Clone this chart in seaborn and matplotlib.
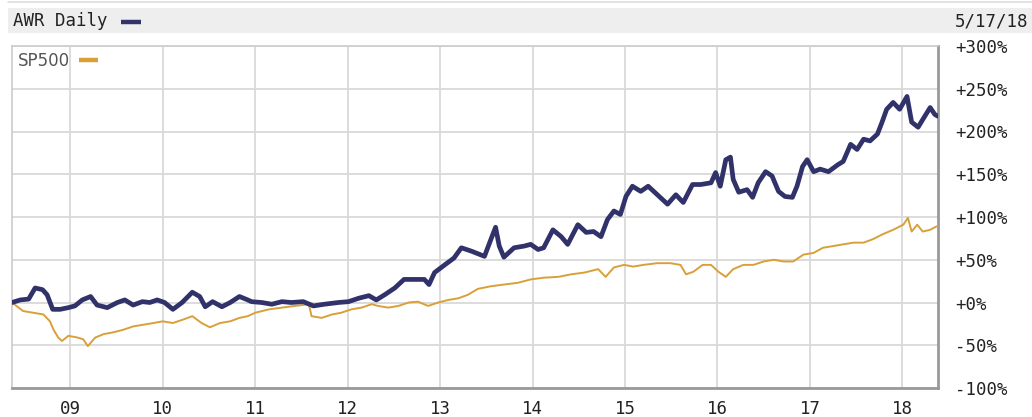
import matplotlib
matplotlib.use("Agg")
import matplotlib.pyplot as plt
from matplotlib.lines import Line2D
import pandas as pd
import seaborn as sns

# ---------------- data ----------------
awr_t = [2008.37, 2008.46, 2008.55, 2008.62, 2008.70, 2008.75, 2008.81, 2008.89, 2008.98, 2009.05,
         2009.13, 2009.22, 2009.29, 2009.40, 2009.51, 2009.59, 2009.68, 2009.78, 2009.86, 2009.94,
         2010.02, 2010.11, 2010.21, 2010.32, 2010.40, 2010.46, 2010.54, 2010.64, 2010.73, 2010.83,
         2010.92, 2010.96, 2011.07, 2011.18, 2011.29, 2011.39, 2011.52, 2011.63, 2011.75, 2011.90,
         2012.01, 2012.12, 2012.23, 2012.31, 2012.40, 2012.51, 2012.61, 2012.72, 2012.83, 2012.88,
         2012.94, 2013.05, 2013.15, 2013.23, 2013.34, 2013.48, 2013.55, 2013.60, 2013.64, 2013.69,
         2013.80, 2013.91, 2013.98, 2014.06, 2014.12, 2014.22, 2014.31, 2014.38, 2014.49, 2014.58,
         2014.66, 2014.74, 2014.81, 2014.88, 2014.95, 2015.01, 2015.08, 2015.17, 2015.25, 2015.35,
         2015.46, 2015.55, 2015.63, 2015.73, 2015.82, 2015.93, 2015.98, 2016.03, 2016.09, 2016.14,
         2016.17, 2016.23, 2016.32, 2016.38, 2016.44, 2016.52, 2016.59, 2016.66, 2016.73, 2016.81,
         2016.86, 2016.92, 2016.97, 2017.04, 2017.11, 2017.20, 2017.30, 2017.36, 2017.44, 2017.51,
         2017.58, 2017.65, 2017.73, 2017.78, 2017.83, 2017.90, 2017.97, 2018.05, 2018.10, 2018.17,
         2018.22, 2018.30, 2018.35, 2018.38]
awr_v = [0, 3, 4, 17, 15, 9, -8, -8, -6, -4,
         3, 7, -3, -6, 0, 3, -3, 1, 0, 3,
         0, -8, 0, 12, 7, -5, 1, -5, 0, 7,
         3, 1, 0, -2, 1, 0, 1, -4, -2, 0,
         1, 5, 8, 3, 9, 17, 27, 27, 27, 21,
         35, 44, 52, 64, 60, 54, 74, 88, 66, 53,
         64, 66, 68, 62, 64, 85, 77, 68, 91, 82,
         83, 77, 97, 107, 103, 124, 136, 130, 136, 126,
         115, 126, 117, 138, 138, 140, 152, 136, 167, 170,
         144, 129, 132, 123, 140, 153, 148, 130, 124, 123,
         136, 159, 167, 153, 156, 153, 161, 165, 185, 179,
         191, 189, 197, 211, 226, 234, 226, 241, 211, 205,
         214, 228, 220, 218]

sp_t = [2008.37, 2008.49, 2008.60, 2008.71, 2008.78, 2008.82, 2008.87, 2008.91, 2008.98, 2009.08,
        2009.14, 2009.19, 2009.27, 2009.36, 2009.46, 2009.57, 2009.68, 2009.79, 2009.90, 2010.00,
        2010.11, 2010.22, 2010.32, 2010.42, 2010.51, 2010.62, 2010.73, 2010.83, 2010.92, 2011.00,
        2011.15, 2011.29, 2011.43, 2011.58, 2011.61, 2011.72, 2011.83, 2011.93, 2012.04, 2012.15,
        2012.26, 2012.33, 2012.44, 2012.55, 2012.66, 2012.76, 2012.87, 2012.98, 2013.09, 2013.20,
        2013.30, 2013.41, 2013.55, 2013.69, 2013.84, 2013.98, 2014.12, 2014.28, 2014.42, 2014.56,
        2014.71, 2014.79, 2014.88, 2014.99, 2015.09, 2015.20, 2015.35, 2015.49, 2015.60, 2015.66,
        2015.74, 2015.84, 2015.93, 2016.01, 2016.09, 2016.17, 2016.28, 2016.39, 2016.50, 2016.61,
        2016.71, 2016.82, 2016.93, 2017.04, 2017.14, 2017.25, 2017.36, 2017.47, 2017.58, 2017.68,
        2017.79, 2017.90, 2018.01, 2018.06, 2018.10, 2018.16, 2018.22, 2018.30, 2018.37]
sp_v = [0, -10, -12, -14, -22, -32, -41, -45, -39, -41,
        -43, -51, -41, -37, -35, -32, -28, -26, -24, -22,
        -24, -20, -16, -24, -29, -24, -22, -18, -16, -12,
        -8, -6, -4, -2, -16, -18, -14, -12, -8, -6,
        -2, -4, -6, -4, 0, 1, -4, 0, 3, 5,
        9, 16, 19, 21, 23, 27, 29, 30, 33, 35,
        39, 30, 41, 44, 42, 44, 46, 46, 44, 33,
        36, 44, 44, 36, 30, 39, 44, 44, 48, 50,
        48, 48, 56, 58, 64, 66, 68, 70, 70, 74,
        80, 85, 91, 99, 83, 91, 83, 85, 89]

year_ticks = list(range(2009, 2019))
year_labels = ["09", "10", "11", "12", "13", "14", "15", "16", "17", "18"]
pct_ticks = [-100, -50, 0, 50, 100, 150, 200, 250, 300]
pct_labels = ["-100%", "-50%", "+0%", "+50%", "+100%", "+150%", "+200%", "+250%", "+300%"]
title_text = "AWR Daily"
date_text = "5/17/18"
awr_name = "AWR"
sp_name = "SP500"

# ---------------- styling ----------------
NAVY = "#31326a"
GOLD = "#d9a03a"
GRID = "#d9d9d9"
MONO = ["DejaVu Sans Mono"]

sns.set_style("white")
plt.rcParams["font.family"] = ["DejaVu Sans"]

W, H = 1032, 417
fig = plt.figure(figsize=(W / 100, H / 100), dpi=100)
fig.patch.set_facecolor("white")

# header band
hdr = fig.add_axes([8 / W, (H - 33) / H, (W - 8) / W, 25 / H])
hdr.set_facecolor("#eeeeee")
for s in hdr.spines.values():
    s.set_visible(False)
hdr.set_xticks([]); hdr.set_yticks([])
fig.add_artist(Line2D([8 / W, 1.0], [(H - 2) / H] * 2, color="#dddddd", lw=1.2))

fig.text(13 / W, (H - 21) / H, title_text, family=MONO, fontsize=12.5,
         color="#222222", va="center", ha="left")
fig.add_artist(Line2D([121 / W, 141 / W], [(H - 22) / H] * 2, color=NAVY, lw=3.2,
                      solid_capstyle="butt"))
fig.text(955 / W, (H - 21) / H, date_text, family=MONO, fontsize=12.5,
         color="#222222", va="center", ha="left")

# main axes
ax = fig.add_axes([12 / W, (H - 388) / H, 926 / W, 342 / H])
df_sp = pd.DataFrame({"t": sp_t, "v": sp_v})
df_awr = pd.DataFrame({"t": awr_t, "v": awr_v})
sns.lineplot(data=df_sp, x="t", y="v", ax=ax, color=GOLD, lw=1.4,
             estimator=None, sort=False, label=sp_name, zorder=3)
sns.lineplot(data=df_awr, x="t", y="v", ax=ax, color=NAVY, lw=3.4,
             estimator=None, sort=False, label=awr_name, zorder=4)

ax.set_xlim(2008.37, 2018.385)
ax.set_ylim(-100, 300)
ax.set_xticks(year_ticks)
ax.set_xticklabels(year_labels)
ax.set_yticks(pct_ticks)
ax.set_yticklabels(pct_labels)
ax.yaxis.tick_right()
ax.tick_params(axis="y", length=0, pad=12.5, labelsize=12.5, labelcolor="#222222")
ax.tick_params(axis="x", length=0, pad=9, labelsize=12.5, labelcolor="#222222")
for lab in ax.get_xticklabels() + ax.get_yticklabels():
    lab.set_family(MONO)
ax.set_xlabel(""); ax.set_ylabel("")
ax.grid(True, color=GRID, lw=1.3)
ax.set_axisbelow(True)
ax.spines["top"].set_color("#cccccc"); ax.spines["top"].set_linewidth(1.2)
ax.spines["left"].set_color("#cccccc"); ax.spines["left"].set_linewidth(1.2)
ax.spines["bottom"].set_color("#999999"); ax.spines["bottom"].set_linewidth(2.0)
ax.spines["right"].set_color("#999999"); ax.spines["right"].set_linewidth(2.0)

# in-plot legend showing SP500 only
sp_line = ax.lines[0]
leg = ax.legend(handles=[Line2D([], [], color=GOLD, lw=3.2, solid_capstyle="butt")],
                labels=[sp_name], loc="upper left", bbox_to_anchor=(0.0, 1.0),
                frameon=False, markerfirst=False, handlelength=1.15, handletextpad=0.55,
                borderaxespad=0.0, borderpad=0.35, fontsize=12)
for t in leg.get_texts():
    t.set_color("#555555")

fig.savefig("out.png", dpi=100)
